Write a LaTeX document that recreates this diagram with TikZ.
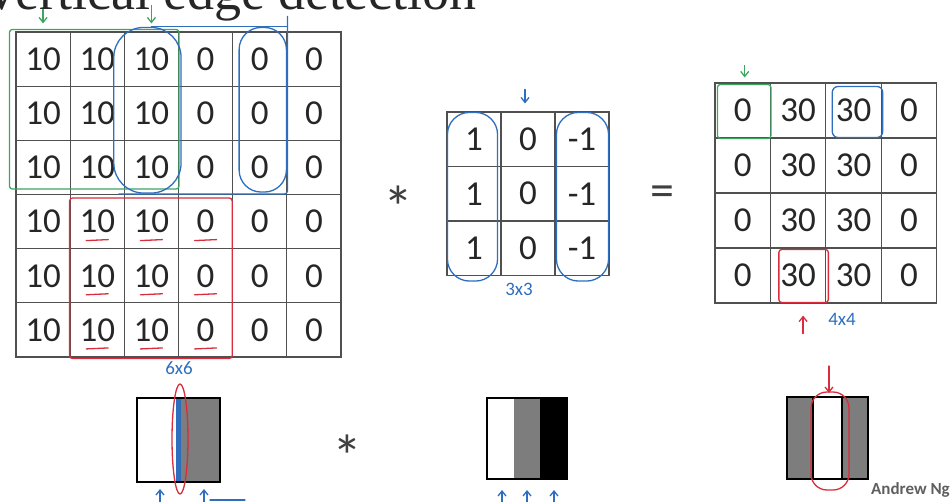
\documentclass[tikz,border=0pt]{standalone}
\usepackage{fontspec}
\setmainfont{Carlito}
\newfontfamily\titlefont{Liberation Serif}
\usetikzlibrary{arrows.meta, positioning, calc}
\definecolor{inkGreen}{RGB}{60, 165, 95}
\definecolor{inkBlue}{RGB}{45, 110, 190}
\definecolor{inkRed}{RGB}{215, 45, 60}
\definecolor{gridGray}{RGB}{80, 80, 80}
\definecolor{stripeGray}{RGB}{125, 125, 125}
\definecolor{signGray}{RGB}{95, 95, 95}

\begin{document}
\begin{tikzpicture}[
        x=1pt,
        y=-1pt,
        cellBase/.style={
            draw=gridGray,
            line width=1.1pt,
            inner sep=0pt,
            text=black!85,
            font=\fontsize{35}{40}\selectfont
        },
        inCell/.style={cellBase, minimum width=54.17pt, minimum height=54.17pt},
        kerCell/.style={cellBase, minimum width=54pt, minimum height=54.5pt},
        outCell/.style={cellBase, minimum width=55.4pt, minimum height=55pt},
        opSign/.style={anchor=base, inner sep=0pt, text=black!75, font=\fontsize{60}{64}\selectfont},
        ink/.style={line width=1.3pt, line cap=round, line join=round, rounded corners=3pt},
        inkArrow/.style={ink, -{Straight Barb[length=5pt, width=8pt]}},
        sizeLabel/.style={inner sep=0pt, text=inkBlue, font=\fontsize{19}{21}\selectfont},
        frame/.style={draw=black, line width=2.4pt}
    ]
        \useasboundingbox (0,0) rectangle (952,502);
        \clip (0,0) rectangle (952,502);

        \node[anchor=base east, inner sep=0pt, text=black!85, font=\titlefont\fontsize{54}{58}\selectfont] (title) at (477,10)
            {Vertical edge detection};

        \foreach \r in {1,...,6}
            \foreach \v [count=\c] in {10,10,10,0,0,0}
                \node[inCell] (in-\r-\c) at ({16+54.17*(\c-0.5)}, {32+54.17*(\r-0.5)}) {\v};

        \foreach \r in {1,2,3}
            \foreach \v [count=\c] in {1,0,-1}
                \node[kerCell] (k-\r-\c) at ({447+54*(\c-0.5)}, {112+54.5*(\r-0.5)}) {\v};

        \foreach \r in {1,...,4}
            \foreach \v [count=\c] in {0,30,30,0}
                \node[outCell] (out-\r-\c) at ({715+55.4*(\c-0.5)}, {83+55*(\r-0.5)}) {\v};

        \node[opSign] (conv) at (398,229) {*};
        \node[opSign, font=\fontsize{48}{52}\selectfont] (equals) at (662,207) {=};
        \node[opSign] (convImg) at (347,477) {*};

        \draw[ink, inkGreen] ($(in-1-1.north west)+(-6,-2)$) rectangle ($(in-3-3.south east)+(0,-6)$);
        \draw[inkArrow, inkGreen] ($(in-1-1.north)+(0,-22)$) -- ($(in-1-1.north)+(0,-8)$);
        \draw[inkArrow, inkGreen] ($(in-1-3.north)+(0,-26)$) -- ($(in-1-3.north)+(0,-8)$);

        \draw[ink, inkBlue, rounded corners=30pt] ($(in-1-3.north west)+(-10,-4)$) rectangle ($(in-3-3.south east)+(2,-2)$);
        \draw[ink, inkBlue, rounded corners=22pt] ($(in-1-5.north west)+(7,-4)$) rectangle ($(in-3-5.south east)+(-1,-3)$);
        \draw[ink, inkBlue] ($(in-1-3.north)+(0,-5)$) -- ($(in-1-5.north east)+(0,-5)$);
        \draw[ink, inkBlue] ($(in-1-5.north east)+(0,-15)$) -- ($(in-3-5.south east)+(0,-1)$) -- ($(in-3-3.south west)+(-5,-1)$);

        \draw[ink, inkRed] ($(in-4-2.north west)+(0,4)$) rectangle ($(in-6-4.south east)+(-1,1)$);
        \foreach \r in {4,5,6}
            \foreach \c in {2,3,4}
                \draw[ink, inkRed] ($(in-\r-\c.center)+(-11,19)$) -- ($(in-\r-\c.center)+(11,18)$);

        \node[sizeLabel, below=4pt of in-6-3.south east] (inSize) {6x6};

        \draw[ink, inkBlue, rounded corners=22pt] ($(k-1-1.north west)+(1,1)$) rectangle ($(k-3-1.south east)+(-4,5)$);
        \draw[ink, inkBlue, rounded corners=22pt] ($(k-1-3.north west)+(2,1)$) rectangle ($(k-3-3.south east)+(-1,5)$);
        \draw[inkArrow, inkBlue] ($(k-1-2.north)+(-3,-22)$) -- ($(k-1-2.north)+(-3,-8)$);
        \node[sizeLabel, below=7pt of k-3-2.south, xshift=-9pt] (kerSize) {3x3};

        \draw[ink, inkGreen] ($(out-1-1.north west)+(3,2)$) rectangle (out-1-1.south east);
        \draw[inkArrow, inkGreen] ($(out-1-1.north)+(2,-17)$) -- ($(out-1-1.north)+(2,-5)$);
        \draw[ink, inkBlue, rounded corners=6pt] ($(out-1-3.north west)+(7,4)$) rectangle ($(out-1-3.south east)+(1,-1)$);
        \draw[ink, inkRed] ($(out-4-2.north west)+(9,2)$) rectangle ($(out-4-2.south east)+(2,-1)$);
        \draw[inkArrow, inkRed] ($(out-4-2.south)+(5,30)$) -- ($(out-4-2.south)+(5,12)$);
        \node[sizeLabel, below right=10pt and 30pt of out-4-2.south] (outSize) {4x4};

        \fill[stripeGray] (178,398) rectangle (220,482);
        \fill[inkBlue] (176,398) rectangle (181,482);
        \draw[frame] (137,398) rectangle (220,482);
        \draw[ink, inkRed] (180,439) ellipse [x radius=8, y radius=55];
        \coordinate (edgeLeft) at (160,489);
        \coordinate (edgeRight) at (204,489);
        \draw[inkArrow, inkBlue] ($(edgeLeft)+(0,16)$) -- (edgeLeft);
        \draw[inkArrow, inkBlue] ($(edgeRight)+(0,16)$) -- (edgeRight);
        \draw[ink, inkBlue] ($(edgeRight)+(6,11)$) -- ($(edgeRight)+(41,11)$);

        \fill[stripeGray] (514,398) rectangle (540,479);
        \fill[black] (540,398) rectangle (567,479);
        \draw[frame] (487,398) rectangle (567,479);
        \foreach \x/\name in {502/kerWhite, 527/kerGray, 554/kerBlack} {
            \coordinate (\name) at (\x,490);
            \draw[inkArrow, inkBlue] ($(\name)+(0,14)$) -- (\name);
        }

        \fill[stripeGray] (787,397) rectangle (813,479);
        \fill[stripeGray] (842,397) rectangle (868,479);
        \draw[black, line width=2.4pt] (813,397) -- (813,479);
        \draw[black, line width=2.4pt] (842,397) -- (842,479);
        \draw[frame] (787,397) rectangle (868,479);
        \draw[ink, inkRed, rounded corners=16pt] (811,392) rectangle (849,490);
        \coordinate (edgeOut) at (829,393);
        \draw[inkArrow, inkRed] ($(edgeOut)+(0,-27)$) -- (edgeOut);

        \node[anchor=base east, inner sep=0pt, text=signGray, font=\fontsize{17}{19}\selectfont\bfseries] (credit) at (950,494)
            {Andrew Ng};
    \end{tikzpicture}
\end{document}
